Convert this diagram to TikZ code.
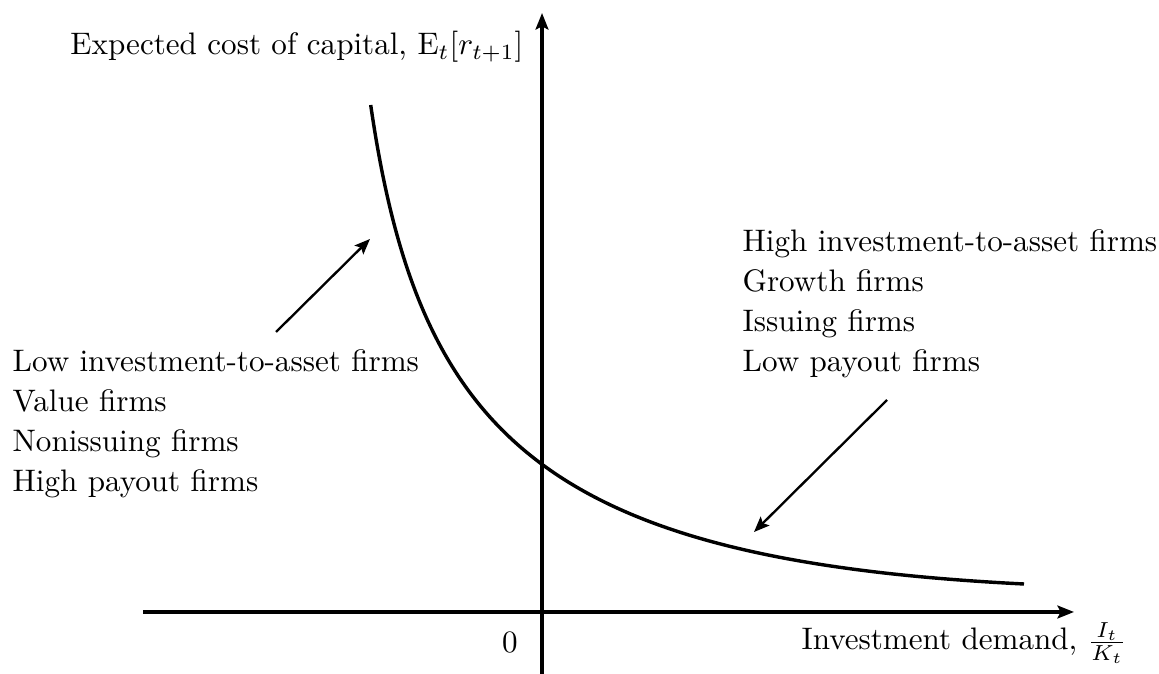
\documentclass[tikz,border=0pt]{standalone}
\usetikzlibrary{arrows.meta, positioning}

\begin{document}
\begin{tikzpicture}[
        x=0.3215pt, y=-0.3215pt,
        axisLine/.style={
            -{Stealth[length=5.3pt, width=4.1pt, inset=1pt]},
            line width=1.1pt
        },
        demandCurve/.style={
            line width=1.1pt
        },
        pointer/.style={
            -{Stealth[length=5pt, width=4pt, inset=1pt]},
            line width=0.75pt
        },
        firmList/.style={
            inner sep=0pt,
            align=left,
            font={\fontsize{10}{12.86}\selectfont}
        },
        axisText/.style={
            inner sep=0pt
        }
    ]

        \useasboundingbox (0,0) rectangle (1159,674);

        % Axes
        \coordinate (xStart) at (143,612);
        \coordinate (xEnd) at (1074,612);
        \coordinate (yStart) at (542,674);
        \coordinate (yEnd) at (542,13);

        \draw[axisLine] (xStart) -- (xEnd);
        \draw[axisLine] (yStart) -- (yEnd);

        % Axis labels
        \node[axisText, anchor=base east] (yLabel) at (524,55)
            {Expected cost of capital, $\mathrm{E}_t[r_{t+1}]$};
        \node[axisText, anchor=base east] (xLabel) at (1127,650)
            {Investment demand, $\frac{I_t}{K_t}$};
        \node[axisText, anchor=base] (origin) at (510,653) {0};

        % Investment demand curve
        \coordinate (curveTop) at (370.7,105);
        \coordinate (curveEnd) at (1024,584);
        \draw[demandCurve] (curveTop)
            .. controls (418.6,435) and (544,560) .. (curveEnd);

        % Firm groups (base = last line)
        \node[firmList, anchor=base west] (lowFirms) at (12,492) {
            Low investment-to-asset firms\\
            Value firms\\
            Nonissuing firms\\
            High payout firms
        };

        \node[firmList, anchor=base west] (highFirms) at (742,372) {
            High investment-to-asset firms\\
            Growth firms\\
            Issuing firms\\
            Low payout firms
        };

        % Pointers to the curve
        \coordinate (lowTail) at (276,332);
        \coordinate (lowTip) at (370,239);
        \coordinate (highTail) at (887,400);
        \coordinate (highTip) at (754,532);

        \draw[pointer] (lowTail) -- (lowTip);
        \draw[pointer] (highTail) -- (highTip);

    \end{tikzpicture}
\end{document}
